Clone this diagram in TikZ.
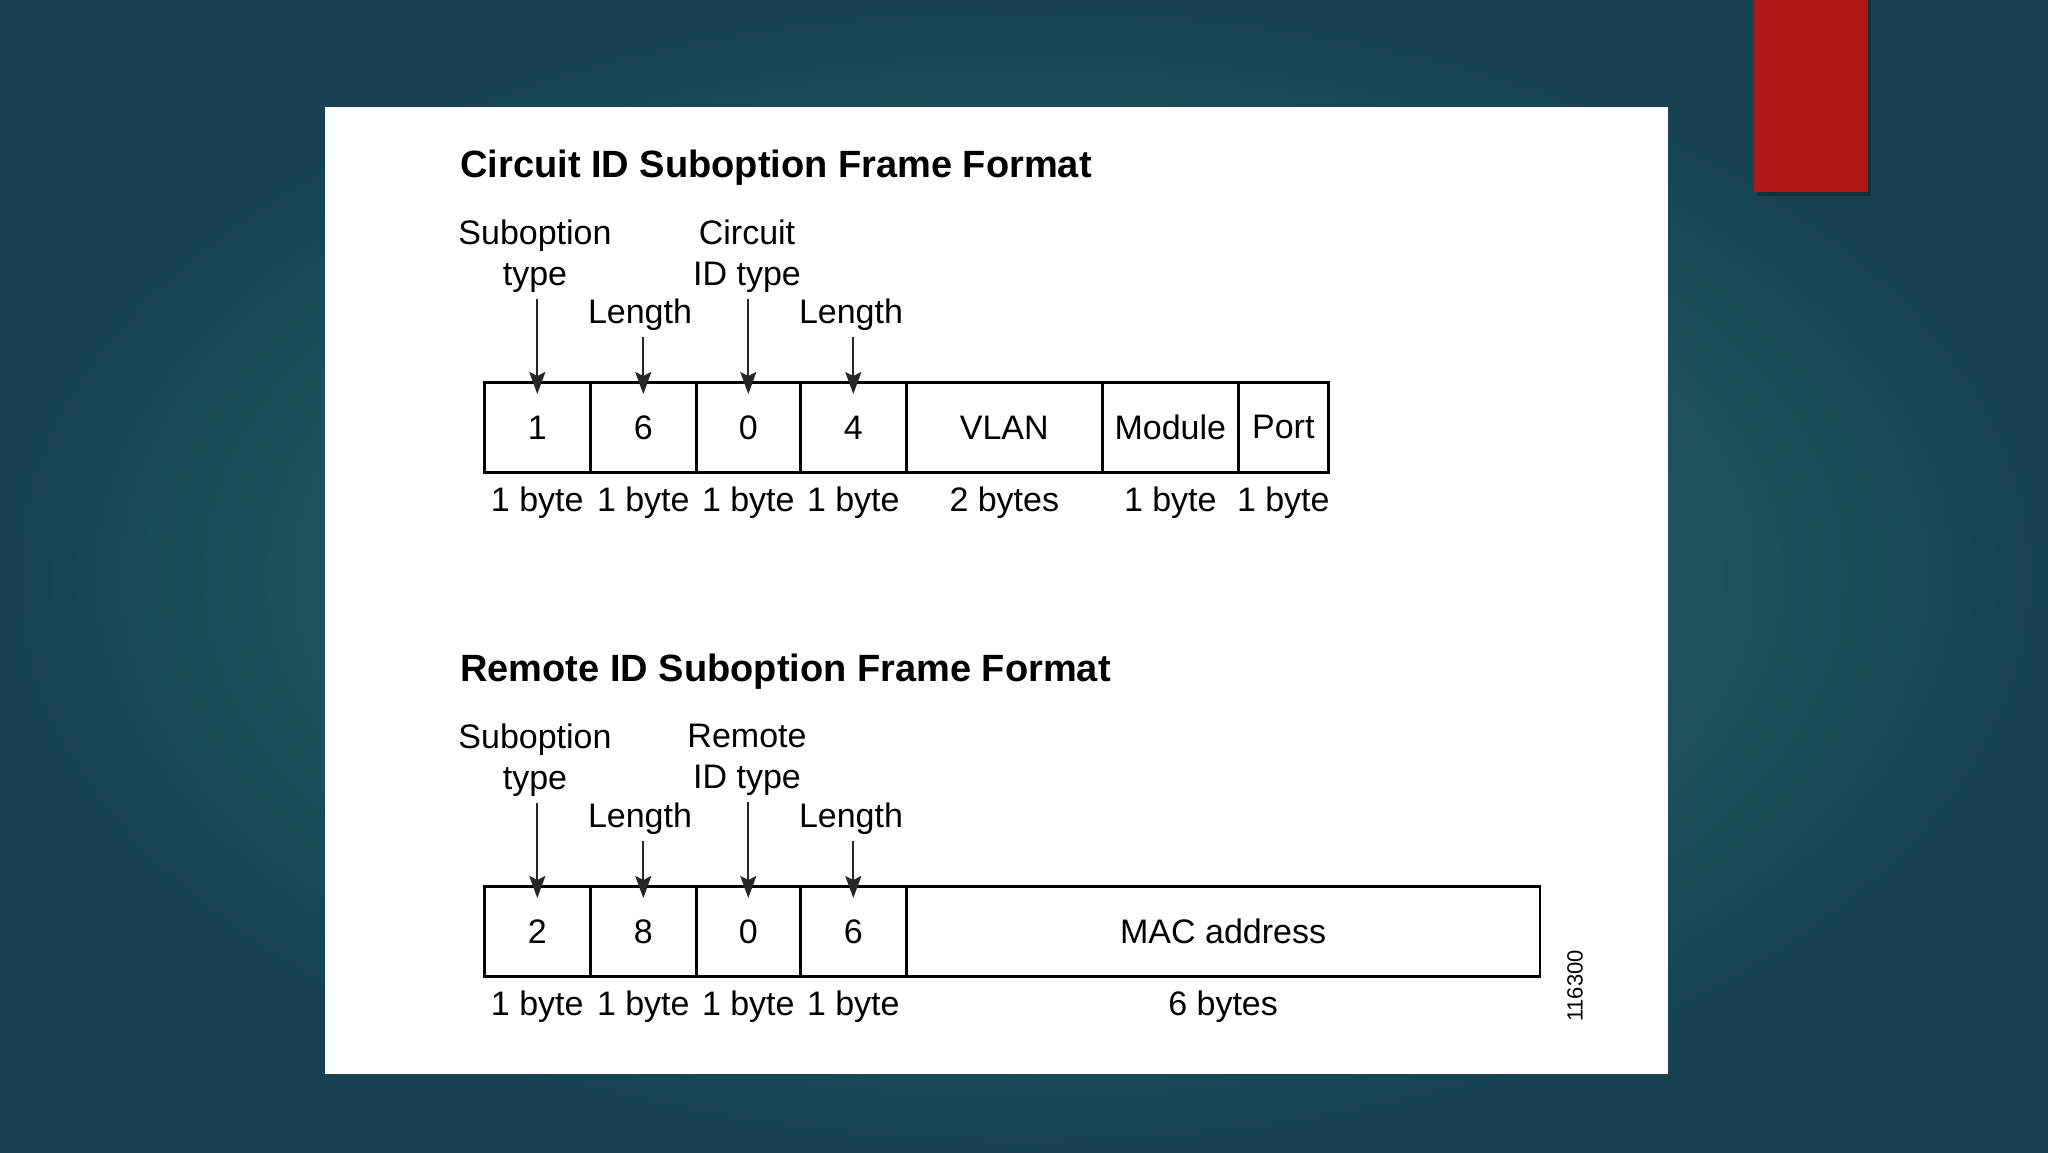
\documentclass[tikz,border=0pt]{standalone}
\usepackage{fontspec}
\setmainfont{Liberation Sans}
\usetikzlibrary{arrows.meta}
\definecolor{bgin}{RGB}{52,114,114}
\definecolor{bgout}{RGB}{22,66,82}
\definecolor{redbar}{RGB}{176,24,24}
\begin{document}
\begin{tikzpicture}[x=0.5pt,y=-0.5pt,
  field/.style={draw=black, line width=1.3pt, minimum height=45pt, inner sep=0pt, anchor=north west, font=\fontsize{17}{20.25}\selectfont},
  lab/.style={align=center, inner sep=3pt, font=\fontsize{17}{20.25}\selectfont},
  ttl/.style={anchor=west, inner sep=0pt, font=\fontsize{19}{22}\selectfont\bfseries},
  arr/.style={-{Stealth[length=11pt,width=8pt,inset=2pt]}, line width=1pt, draw=black!85, fill=black!85, shorten >=-6.5pt}]
\useasboundingbox (0,0) rectangle (2048,1152);
\shade[inner color=bgin, outer color=bgout] (0,0) rectangle (2048,1152);
\fill[black, opacity=0.25] (1757,0) rectangle (1871,196);
\fill[redbar] (1754,0) rectangle (1868,192);
\fill[white] (325,107) rectangle (1668,1074);

% ---------- Circuit ID ----------
\node[ttl] (t1) at (460,168) {Circuit ID Suboption Frame Format};
\node[field, minimum width=53pt] (c1) at (483,381) {1};
\node[field, minimum width=53pt] (c2) at (589,381) {6};
\node[field, minimum width=52pt] (c3) at (695,381) {0};
\node[field, minimum width=53pt] (c4) at (799,381) {4};
\node[field, minimum width=98pt] (c5) at (905,381) {VLAN};
\node[field, minimum width=68pt] (c6) at (1101,381) {Module};
\node[field, minimum width=45pt] (c7) at (1237,381) {Port};

\node[lab] (l1) at (535,256) {Suboption\\type};
\node[lab] (l2) at (640,315) {Length};
\node[lab] (l3) at (747,256) {Circuit\\ID type};
\node[lab] (l4) at (851,315) {Length};
\draw[arr] (c1.north |- l1.south) -- (c1.north);
\draw[arr] (c2.north |- l2.south) -- (c2.north);
\draw[arr] (c3.north |- l3.south) -- (c3.north);
\draw[arr] (c4.north |- l4.south) -- (c4.north);

\node[lab] (b1) at ([yshift=-14.5pt]c1.south) {1 byte};
\node[lab] (b2) at ([yshift=-14.5pt]c2.south) {1 byte};
\node[lab] (b3) at ([yshift=-14.5pt]c3.south) {1 byte};
\node[lab] (b4) at ([yshift=-14.5pt]c4.south) {1 byte};
\node[lab] (b5) at ([yshift=-14.5pt]c5.south) {2 bytes};
\node[lab] (b6) at ([yshift=-14.5pt]c6.south) {1 byte};
\node[lab] (b7) at ([yshift=-14.5pt]c7.south) {1 byte};

% ---------- Remote ID ----------
\node[ttl] (t2) at (460,672) {Remote ID Suboption Frame Format};
\node[field, minimum width=53pt] (r1) at (483,885) {2};
\node[field, minimum width=53pt] (r2) at (589,885) {8};
\node[field, minimum width=52pt] (r3) at (695,885) {0};
\node[field, minimum width=53pt] (r4) at (799,885) {6};
\node[field, minimum width=316.8pt] (r5) at (905,885) {MAC address};

\node[lab] (m1) at (535,760) {Suboption\\type};
\node[lab] (m2) at (640,819) {Length};
\node[lab] (m3) at (747,760) {Remote\\ID type};
\node[lab] (m4) at (851,819) {Length};
\draw[arr] (r1.north |- m1.south) -- (r1.north);
\draw[arr] (r2.north |- m2.south) -- (r2.north);
\draw[arr] (r3.north |- m3.south) -- (r3.north);
\draw[arr] (r4.north |- m4.south) -- (r4.north);

\node[lab] (d1) at ([yshift=-14.5pt]r1.south) {1 byte};
\node[lab] (d2) at ([yshift=-14.5pt]r2.south) {1 byte};
\node[lab] (d3) at ([yshift=-14.5pt]r3.south) {1 byte};
\node[lab] (d4) at ([yshift=-14.5pt]r4.south) {1 byte};
\node[lab] (d5) at ([yshift=-14.5pt]r5.south) {6 bytes};

\node[rotate=90, inner sep=0pt, font=\fontsize{11}{13}\selectfont] (fig) at (1575,986) {116300};
\end{tikzpicture}
\end{document}
